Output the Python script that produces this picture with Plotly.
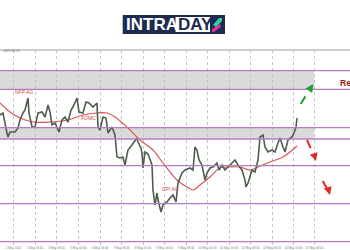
import plotly.graph_objects as go

# ---- data (x = bar position, y = price in chart units) ----
price_x = [0, 3, 7, 8, 10, 15, 18, 20, 23, 25, 28, 29, 32, 35, 38, 42, 45, 48, 50, 52, 55, 59, 62, 65, 68, 71, 73, 77, 79, 83, 86, 89, 93, 97, 98, 100, 103, 106, 108, 112, 115, 117, 120, 123, 125, 128, 132, 137, 138, 141, 142, 143, 145, 148, 152, 153, 155, 157, 158, 161, 163, 167, 170, 173, 176, 178, 182, 185, 190, 193, 195, 197, 199, 202, 205, 207, 210, 213, 217, 219, 222, 225, 228, 232, 235, 238, 242, 245, 246, 248, 252, 255, 258, 260, 263, 265, 268, 272, 275, 278, 280, 283, 285, 288, 292, 294, 296, 297]
price_y = [135, 137, 117, 113, 118, 118, 122, 130, 137, 140, 152, 137, 123, 123, 137, 138, 133, 145, 138, 125, 127, 118, 130, 133, 128, 140, 143, 152, 138, 137, 148, 147, 143, 147, 123, 120, 133, 132, 117, 123, 115, 93, 92, 93, 85, 100, 105, 112, 108, 102, 97, 82, 98, 96, 85, 60, 45, 57, 50, 38, 45, 48, 52, 55, 48, 67, 77, 80, 82, 80, 103, 100, 90, 85, 70, 77, 82, 83, 87, 80, 85, 80, 83, 87, 90, 85, 80, 70, 63, 67, 80, 78, 90, 113, 115, 103, 98, 100, 98, 107, 112, 103, 98, 110, 113, 117, 123, 132]

ma_x = [0, 10, 20, 33, 50, 67, 83, 97, 107, 115, 127, 140, 153, 163, 177, 187, 193, 200, 210, 220, 230, 240, 250, 258, 270, 283, 290, 297]
ma_y = [147, 138, 132, 128, 128, 130, 135, 137, 137, 133, 123, 110, 100, 87, 70, 63, 60, 65, 73, 82, 83, 83, 80, 83, 88, 93, 98, 104]

level_lines = [179.3, 160.7, 122.3, 111.0, 84.3, 46.3, 8.3]
zones = [(160.7, 179.3), (111.0, 122.3)]
zone_end = 314

grid_x = [13.3, 35, 56.7, 78.3, 100, 121.5, 143, 164.5, 186, 207.5, 229, 250.5, 272, 293.5, 314.3]
tick_labels = ["2 May 2024", "2 May 16:00", "3 May 08:00", "6 May 00:00", "6 May 16:00",
               "7 May 08:00", "8 May 00:00", "8 May 16:00", "9 May 08:00", "10 May 00:00",
               "10 May 16:00", "13 May 08:00", "14 May 00:00", "14 May 16:00", "15 May 08:00"]

events = [("NFP AG", 24, 158), ("FOMC", 88, 132), ("CPI AG", 170, 61)]

green_arrow = [(300.7, 146), (313.3, 166)]
red_arrows = [[(307, 110), (316, 89)], [(322.7, 69), (330, 55)]]

fig = go.Figure()

fig.add_trace(go.Scatter(x=ma_x, y=ma_y, mode="lines",
                         line=dict(color="#d9534f", width=1.1, shape="spline"),
                         hoverinfo="skip"))
fig.add_trace(go.Scatter(x=price_x, y=price_y, mode="lines",
                         line=dict(color="#4e5e4c", width=1.6),
                         hoverinfo="skip"))

shapes = []
for lo, hi in zones:
    shapes.append(dict(type="rect", xref="x", yref="y", x0=0, x1=zone_end, y0=lo, y1=hi,
                       fillcolor="#dadada", line=dict(width=0), layer="below"))
for lv in level_lines:
    shapes.append(dict(type="line", xref="paper", yref="y", x0=0, x1=1, y0=lv, y1=lv,
                       line=dict(color="#b57cc4", width=1.3), layer="above"))
# top frame line
shapes.append(dict(type="line", xref="paper", yref="paper", x0=0, x1=1, y0=1, y1=1,
                   line=dict(color="#a0a0a0", width=1)))

# dashed arrow shafts
(gx0, gy0), (gx1, gy1) = green_arrow
shapes.append(dict(type="line", xref="x", yref="y", x0=gx0, y0=gy0, x1=gx1 - 2, y1=gy1 - 3,
                   line=dict(color="#22a032", width=2, dash="dash")))
for (rx0, ry0), (rx1, ry1) in red_arrows:
    shapes.append(dict(type="line", xref="x", yref="y", x0=rx0, y0=ry0, x1=rx1 - 1, y1=ry1 + 3,
                       line=dict(color="#e02a2a", width=2, dash="dash")))

# logo (pixel positions converted to paper coords)
def px(xp):
    return xp / 350.0
def py(yp):
    return (245.0 - yp) / 195.0

shapes.append(dict(type="rect", xref="paper", yref="paper", x0=px(122.7), x1=px(225),
                   y0=py(34), y1=py(15), fillcolor="#1c2b4f", line=dict(width=0)))
shapes.append(dict(type="rect", xref="paper", yref="paper", x0=px(175.5), x1=px(210),
                   y0=py(32), y1=py(17), fillcolor="#ffffff", line=dict(width=0)))
shapes.append(dict(type="path", xref="paper", yref="paper",
                   path=f"M {px(213)},{py(25)} L {px(219)},{py(18)} L {px(222)},{py(18)} L {px(222)},{py(21)} L {px(216)},{py(27)} Z",
                   fillcolor="#2fd3a0", line=dict(width=0)))
shapes.append(dict(type="path", xref="paper", yref="paper",
                   path=f"M {px(212)},{py(29)} L {px(220)},{py(24)} L {px(221)},{py(27)} L {px(214)},{py(32)} L {px(212)},{py(32)} Z",
                   fillcolor="#e0309a", line=dict(width=0)))

annotations = []
annotations.append(dict(xref="paper", yref="paper", x=px(124), y=py(24.5), text="<b>INTRA</b>",
                        showarrow=False, xanchor="left", yanchor="middle",
                        font=dict(family="Liberation Sans", size=17, color="#ffffff")))
annotations.append(dict(xref="paper", yref="paper", x=px(176), y=py(24.5), text="<b>DAY</b>",
                        showarrow=False, xanchor="left", yanchor="middle",
                        font=dict(family="Liberation Sans", size=17, color="#1c2b4f")))

for txt, ex, ey in events:
    annotations.append(dict(x=ex, y=ey, xref="x", yref="y", text=txt, showarrow=False,
                            xanchor="center", yanchor="middle",
                            font=dict(family="Liberation Sans", size=5, color="#d04a4a")))

annotations.append(dict(x=338, y=167, xref="x", yref="y", text="<b>Re</b>",
                        showarrow=False, xanchor="left", yanchor="middle",
                        font=dict(family="Liberation Sans", size=8.5, color="#a01818")))
annotations.append(dict(xref="paper", yref="paper", x=px(1), y=py(51.5), text="GBPUSD,H1",
                        showarrow=False, xanchor="left", yanchor="middle",
                        font=dict(family="Liberation Sans", size=3, color="#808080")))

# arrow heads
annotations.append(dict(x=gx1, y=gy1, ax=gx1 - 3, ay=gy1 - 4.5, xref="x", yref="y",
                        axref="x", ayref="y", text="", showarrow=True, arrowhead=2,
                        arrowsize=0.8, arrowwidth=2, arrowcolor="#22a032"))
for (rx0, ry0), (rx1, ry1) in red_arrows:
    annotations.append(dict(x=rx1, y=ry1, ax=rx1 - 1.5, ay=ry1 + 5, xref="x", yref="y",
                            axref="x", ayref="y", text="", showarrow=True, arrowhead=2,
                            arrowsize=0.8, arrowwidth=2, arrowcolor="#e02a2a"))

fig.update_layout(
    width=350, height=250,
    margin=dict(l=0, r=0, t=50, b=5),
    paper_bgcolor="#ffffff", plot_bgcolor="#ffffff",
    showlegend=False,
    shapes=shapes, annotations=annotations,
    xaxis=dict(range=[0, 350], tickvals=grid_x, ticktext=tick_labels,
               showgrid=True, gridcolor="#c4c4c4", griddash="dot", gridwidth=1,
               zeroline=False, showline=False, ticks="",
               tickfont=dict(family="Liberation Sans", size=3, color="#808080"),
               ticklabelstandoff=0),
    yaxis=dict(range=[5, 200], showgrid=False, zeroline=False, showticklabels=False,
               showline=False),
)

fig.write_html("out.html")
